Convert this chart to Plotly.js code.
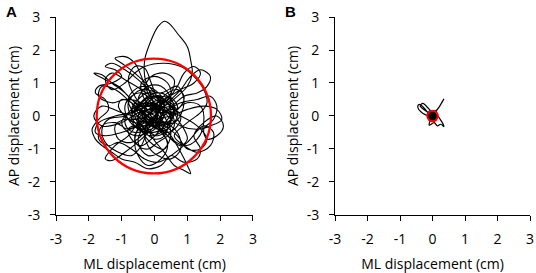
<!DOCTYPE html>
<html>
<head>
<meta charset="utf-8">
<script src="https://cdn.plot.ly/plotly-3.0.1.min.js"></script>
<style>html,body{margin:0;padding:0;background:#fff;}#chart{width:536px;height:273px;}</style>
</head>
<body>
<div id="chart"></div>
<script>
// Panel A: sway path (ML, AP) in cm
const pathA_x = [0,0.3,0.6,0.4,-0.1,-0.6,-0.8,-0.4,0.2,0.7,0.9,0.6,
-0.2,-1.0,-1.6,-1.85,-1.6,-1.0,-0.5,
0.1,0.5,0.4,0.0,-0.4,-0.3,0.2,0.5,0.3,-0.2,-0.5,-0.3,0.1,
-0.1,-0.3,-0.3,-0.1,0.1,0.3,0.45,0.7,1.0,1.1,1.15,1.0,0.7,0.3,
-0.2,-0.7,-1.1,-1.5,-1.85,-1.6,-1.3,-0.9,-0.5,0.0,
0.4,0.9,1.3,1.5,1.4,1.0,0.5,0.0,-0.4,
-0.8,-1.2,-1.5,-1.3,-0.9,-0.4,0.0,0.3,0.2,-0.2,-0.3,
-0.1,0.3,0.6,0.9,1.1,1.0,0.8,0.5,0.1,-0.3,
-0.6,-0.8,-0.6,-0.3,-0.1,0.1,0.4,0.8,1.3,1.7,2.05,1.9,1.5,1.0,0.5,0.0,
-0.5,-1.0,-1.5,-1.8,-1.7,-1.2,-0.7,-0.2,0.3,
0.8,1.2,1.4,1.2,0.9,0.7,0.4,0.0,-0.4,
-0.6,-0.5,-0.2,0.2,0.4,0.2,-0.1,-0.4,-0.9,-1.3,-1.7,-1.6,-1.2,-0.7,-0.2,
0.3,0.7,1.0,1.4,1.6,1.3,0.8,0.3,-0.1,
-0.3,-0.1,0.3,0.6,0.5,0.2,-0.1,-0.5,-0.9,-1.2,-1.1,-0.7,-0.3,0.0,0.2,
0.0,-0.6,-1.0,-1.2,-0.9,-0.6,-0.4,-0.2,0.1,
0.5,0.9,1.3,1.6,1.7,1.4,1.1,0.8,0.4,0.0,
-0.3,-0.2,0.1,0.5,0.8,0.7,0.3,-0.1,-0.5,-0.9,-1.4,-1.6,-1.5,-1.1,-0.7,-0.4,-0.2,0.1,
0.4,0.7,0.5,0.1,-0.3,-0.5,-0.2,0.2,0.5,0.3,0.0,-0.4,-0.5,-0.2,0.1,
0.2,0.8,1.3,1.7,1.9,1.8,1.5,1.6,1.9,2.1,1.9,1.5,1.2,1.4,1.3,0.9,0.5,0.2,-0.2,-0.6,
-1.0,-1.3,-1.6,-1.8,-1.9,-1.7,-1.4,-1.5,-1.8,-1.7,-1.3,-1.0,-1.2,-1.5,-1.3,-0.9,-0.5,-0.1,0.3,
0.3,0.5,0.4,0.1,-0.2,-0.4,-0.3,0.0,0.3,0.6,0.7,0.5,0.2,-0.1,-0.5,-0.7,-0.6,-0.3,0.0,0.2,
0.1,-0.2,-0.5,-0.8,-0.9,-0.7,-0.4,-0.1,0.2,0.5,0.8,0.9,0.7,0.4,0.1,-0.2,-0.4,-0.6,-0.5,-0.2,
0.1,0.4,0.6,0.5,0.2,-0.1,-0.3,-0.6,-0.9,-1.1,-1.0,-0.7,-0.4,-0.1,0.2,0.4,0.3,0.0,-0.3,-0.5,
-0.4,-0.1,0.2,0.5,0.7,0.9,1.0,0.8,0.5,0.2,-0.1,-0.4,-0.7,-0.8,-0.6,-0.3,0.0,0.3,0.5,0.4,
0.1,-0.2,-0.4,-0.3,0.0,0.2,0.4,0.3,0.0,-0.3,-0.6,-0.8,-0.7,-0.4,-0.1,0.2,0.5,0.6,0.4,0.1,
-0.2,-0.5,-0.6,-0.4,-0.1,0.1,0.3,0.6,0.8,0.7,0.4,0.1,-0.2,-0.5,-0.7,-0.5,-0.2,0.0,
0.2,-0.4,-0.9,-1.3,-1.5,-1.3,-0.9,-0.6,-0.3,0.3,0.8,1.2,1.5,1.6,1.4,1.0,0.6,0.9,1.3,1.7,
1.8,1.5,1.0,0.5,0.1,-0.3,-0.7,-1.1,-1.4,-1.7,-1.6,-1.2,-0.8,-0.4,0.0,
-0.2,-0.5,-0.7,-0.6,-0.3,0.0,0.1,-0.1,-0.4,-0.6,-0.5,-0.2,0.1,0.3,0.2,-0.1,-0.4,-0.7,-0.9,-0.8,
-0.5,-0.2,0.0,0.2,0.0,-0.3,-0.5,-0.4,-0.1,0.2,0.4,0.6,0.5,0.2,-0.1,-0.3,-0.2,0.1,0.3,0.1,
-0.2,-0.5,-0.8,-1.0,-0.8,-0.5,-0.2,0.1,0.4,0.5,0.3,0.0,-0.3,-0.6,-0.7,-0.5,-0.2,0.1,0.2,0.0];
const pathA_y = [0,0.4,0.2,-0.3,-0.5,-0.2,0.4,0.8,0.7,0.9,0.4,-0.2,
-0.1,0.1,0.3,0.0,-0.3,-0.2,0.1,
0.3,0.6,1.0,1.2,1.0,0.5,0.1,-0.5,-1.0,-1.2,-0.8,-0.3,0.0,
0.6,1.2,1.7,2.3,2.7,2.87,2.8,2.5,2.1,1.7,1.3,0.9,0.6,0.3,
0.2,0.5,0.9,1.1,1.3,1.25,1.0,0.7,0.3,-0.2,
-0.6,-0.9,-0.7,-0.2,0.3,0.4,0.1,0.1,-0.1,
-0.6,-0.9,-1.3,-1.35,-1.1,-0.7,-0.3,0.2,0.6,0.5,0.0,
-0.6,-1.1,-1.5,-1.65,-1.75,-1.5,-1.1,-0.6,-0.2,0.2,
0.6,1.1,1.5,1.45,1.0,0.5,0.0,-0.3,-0.4,-0.3,-0.1,0.2,0.3,0.2,0.0,-0.1,
-0.3,-0.5,-0.6,-0.5,-0.2,0.0,0.1,0.3,0.5,
0.8,1.0,1.3,1.5,1.3,0.9,0.5,0.2,-0.2,
-0.7,-1.2,-1.5,-1.3,-0.9,-0.4,0.0,0.4,0.5,0.4,0.6,0.9,0.8,0.4,0.0,
-0.3,-0.6,-1.0,-1.0,-0.7,-0.3,0.0,0.2,0.4,
0.8,1.2,1.3,1.1,0.7,0.4,0.1,-0.1,-0.1,-0.3,-0.7,-0.8,-0.5,-0.1,0.3,
0.7,1.3,1.6,1.75,1.8,1.6,1.2,0.7,0.3,
0.3,0.6,0.7,0.9,1.2,1.4,1.2,0.8,0.4,0.0,
-0.4,-0.9,-1.2,-1.3,-1.0,-0.5,-0.2,-0.1,0.2,0.0,-0.1,-0.4,-0.8,-1.1,-1.2,-0.9,-0.4,0.1,
0.6,0.3,-0.1,-0.3,0.0,0.5,0.9,0.9,0.5,0.0,-0.2,-0.3,0.0,0.2,0.1,
0.1,0.4,0.5,0.6,0.3,-0.1,-0.4,-0.7,-0.6,-0.3,0.0,-0.2,-0.6,-1.0,-1.3,-1.4,-1.2,-1.5,-1.6,-1.4,
-1.3,-1.1,-0.9,-0.7,-0.4,-0.1,0.2,0.5,0.7,0.9,1.0,1.2,1.4,1.5,1.6,1.4,1.1,0.7,0.3,
0.2,0.0,-0.3,-0.4,-0.2,0.1,0.4,0.6,0.5,0.3,0.0,-0.3,-0.5,-0.6,-0.4,-0.1,0.2,0.4,0.3,0.0,
-0.3,-0.5,-0.4,-0.1,0.3,0.6,0.7,0.5,0.2,0.1,0.3,0.6,0.8,0.7,0.4,0.0,-0.3,-0.6,-0.9,-1.0,
-0.8,-0.6,-0.3,0.1,0.3,0.2,-0.1,-0.2,0.0,0.3,0.5,0.4,0.1,-0.2,-0.5,-0.8,-1.0,-0.9,-0.6,-0.2,
0.2,0.4,0.5,0.3,-0.1,-0.4,-0.7,-0.9,-0.7,-0.4,-0.3,-0.1,0.2,0.5,0.8,0.9,0.8,0.5,0.2,-0.1,
-0.3,-0.2,0.1,0.3,0.2,-0.1,-0.3,-0.6,-0.7,-0.5,-0.3,-0.4,-0.7,-0.9,-0.7,-0.4,-0.1,0.3,0.6,0.7,
0.6,0.3,0.0,-0.3,-0.4,-0.2,0.1,0.2,0.0,-0.3,-0.5,-0.4,-0.1,0.2,0.4,0.1,-0.1,0.0,
0.3,0.8,1.1,1.3,1.1,0.8,1.0,1.3,1.5,1.6,1.5,1.2,0.8,0.4,0.1,-0.2,-0.6,-0.9,-1.1,-0.9,
-0.5,-0.3,-0.8,-1.2,-1.4,-1.3,-1.0,-0.8,-0.9,-0.7,-0.3,-0.2,-0.4,-0.2,0.0,
0.1,0.2,0.0,-0.3,-0.4,-0.2,0.1,0.3,0.3,0.1,-0.2,-0.3,-0.1,0.2,0.5,0.6,0.4,0.2,-0.1,-0.4,
-0.5,-0.3,0.0,0.2,0.4,0.3,0.0,-0.3,-0.5,-0.4,-0.1,0.2,0.5,0.6,0.5,0.2,-0.1,-0.2,0.0,0.3,
0.4,0.3,0.1,-0.2,-0.5,-0.6,-0.5,-0.6,-0.4,-0.1,0.2,0.3,0.1,-0.1,0.2,0.5,0.7,0.6,0.3,0.0];

// Panel B: sway path (ML, AP) in cm
const pathB_x = [0,0.12,0.1,-0.1,-0.15,-0.3,-0.42,-0.45,-0.35,-0.15,0.0,0.15,0.25,0.35,0.22,0.1,0.2,0.3,0.35,0.25,0.15,0.05,-0.1,-0.05,0.1,0.05,-0.1,-0.12,0.0,-0.2,-0.38,-0.3,-0.1,0.05];
const pathB_y = [0,0.1,-0.12,-0.1,0.1,0.28,0.35,0.25,0.12,0.02,0.12,0.2,0.35,0.52,0.3,0.1,-0.05,-0.2,-0.32,-0.25,-0.3,-0.2,-0.28,-0.1,-0.05,0.1,0.15,-0.05,0.0,0.15,0.3,0.38,0.2,0.05];

// 95% confidence circles: centre (ML, AP) and radius, cm
const circleA = {cx: -0.02, cy: 0.0, r: 1.74};
const circleB = {cx: 0.0, cy: 0.0, r: 0.16};

const tickVals = [-3,-2,-1,0,1,2,3];
const tickText = ['-3','-2','-1','0','1','2','3'];
const xTitle = 'ML displacement (cm)';
const yTitle = 'AP displacement (cm)';
const panelLabels = ['A','B'];

const FONT = 'Open Sans, Arial, sans-serif';
function axis(domain, anchor, title, isX){
  return {
    domain: domain, anchor: anchor, range: [-3,3], autorange: false,
    tickvals: tickVals, ticktext: tickText,
    showline: true, linecolor: '#000', linewidth: 1,
    ticks: 'outside', ticklen: 5, tickcolor: '#000', tickwidth: 1,
    showgrid: false, zeroline: false,
    tickfont: {family: FONT, size: 14, color: '#000'},
    ticklabelstandoff: isX ? 6 : 7,
    title: {text: title, font: {family: FONT, size: 14, color: '#000'}, standoff: isX ? 12 : 4},
    fixedrange: true
  };
}

const traces = [
  {x: pathA_x, y: pathA_y, xaxis: 'x', yaxis: 'y', mode: 'lines',
   line: {color: '#000', width: 1.1, shape: 'spline', smoothing: 1}, hoverinfo: 'skip', showlegend: false},
  {x: pathB_x, y: pathB_y, xaxis: 'x2', yaxis: 'y2', mode: 'lines',
   line: {color: '#000', width: 1.2, shape: 'spline', smoothing: 1}, hoverinfo: 'skip', showlegend: false}
];

const layout = {
  width: 536, height: 273,
  margin: {l: 0, r: 0, t: 0, b: 0},
  paper_bgcolor: '#fff', plot_bgcolor: '#fff',
  xaxis: axis([0.1045, 0.472], 'y', xTitle, true),
  yaxis: axis([0.2125, 0.9377], 'x', yTitle, false),
  xaxis2: axis([0.625, 0.989], 'y2', xTitle, true),
  yaxis2: axis([0.2125, 0.9377], 'x2', yTitle, false),
  shapes: [
    {type: 'circle', xref: 'x', yref: 'y', x0: circleA.cx - circleA.r, x1: circleA.cx + circleA.r,
     y0: circleA.cy - circleA.r, y1: circleA.cy + circleA.r, line: {color: '#ff0000', width: 2.3}, layer: 'above'},
    {type: 'circle', xref: 'x2', yref: 'y2', x0: circleB.cx - circleB.r, x1: circleB.cx + circleB.r,
     y0: circleB.cy - circleB.r, y1: circleB.cy + circleB.r, line: {color: '#ff0000', width: 2}, fillcolor: '#000', layer: 'above'}
  ],
  annotations: [
    {text: '<b>' + panelLabels[0] + '</b>', xref: 'paper', yref: 'paper', x: 0.008, y: 0.995, xanchor: 'left', yanchor: 'top',
     showarrow: false, font: {family: 'Arial, sans-serif', size: 15, color: '#000'}},
    {text: '<b>' + panelLabels[1] + '</b>', xref: 'paper', yref: 'paper', x: 0.528, y: 0.995, xanchor: 'left', yanchor: 'top',
     showarrow: false, font: {family: 'Arial, sans-serif', size: 15, color: '#000'}}
  ]
};

Plotly.newPlot('chart', traces, layout, {staticPlot: true, displayModeBar: false});
</script>
</body>
</html>
